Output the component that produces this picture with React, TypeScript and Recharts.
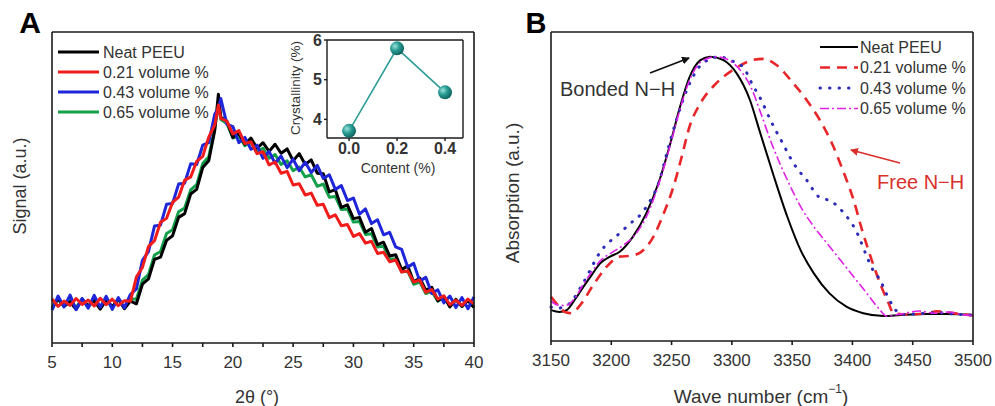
import { LineChart, Line, XAxis, YAxis } from 'recharts'

// ── Panel A: XRD (2θ scan, arbitrary signal units) ───────────────────────────
const twoTheta = [
  5, 5.5, 6, 6.5, 7, 7.5, 8, 8.5, 9, 9.5,
  10, 10.5, 11, 11.5, 12, 12.5, 13, 13.5, 14, 14.5,
  15, 15.5, 16, 16.5, 17, 17.5, 18, 18.5, 18.8, 19, 19.5,
  20, 20.5, 21, 21.5, 22, 22.5, 23, 23.5, 24, 24.5,
  25, 25.5, 26, 26.5, 27, 27.5, 28, 28.5, 29, 29.5,
  30, 30.5, 31, 31.5, 32, 32.5, 33, 33.5, 34, 34.5,
  35, 35.5, 36, 36.5, 37, 37.5, 38, 38.5, 39, 39.5, 40,
]
const xrdNeat = [
  11.0, 14.3, 11.8, 13.2, 10.8, 14.1, 12.0, 13.6, 10.9, 13.8,
  11.6, 14.2, 11.0, 13.5, 12.6, 18.9, 20.6, 26.9, 27.6, 33.0,
  34.5, 40.4, 41.6, 47.9, 49.4, 56.4, 58.6, 68.4, 80.0, 72.6, 71.4,
  66.1, 67.4, 63.9, 65.9, 62.6, 64.4, 61.6, 63.9, 61.0, 62.4,
  58.6, 60.9, 57.4, 58.9, 54.6, 54.4, 48.6, 49.3, 43.6, 44.4,
  40.0, 40.4, 35.6, 36.8, 31.6, 32.4, 28.0, 28.4, 23.6, 24.8,
  19.6, 20.9, 17.0, 17.9, 13.6, 15.0, 11.6, 14.0, 11.8, 13.6, 11.4,
]
const xrd021 = [
  14.2, 11.8, 13.5, 12.1, 14.3, 12.4, 13.8, 11.9, 14.4, 12.3,
  14.1, 12.0, 13.6, 13.4, 21.2, 24.3, 31.0, 32.9, 38.8, 40.1,
  45.2, 46.9, 52.3, 53.4, 58.4, 60.0, 66.2, 70.1, 76.5, 72.2, 71.3,
  67.2, 68.3, 64.1, 64.7, 60.9, 61.5, 57.3, 58.2, 54.6, 55.2,
  50.8, 51.2, 47.6, 48.2, 44.3, 44.6, 40.3, 41.2, 37.7, 38.1,
  34.3, 35.2, 32.1, 32.7, 28.8, 29.2, 26.1, 26.7, 22.8, 23.2,
  19.6, 20.2, 16.3, 17.2, 14.1, 15.2, 12.3, 13.8, 12.1, 14.1, 12.6,
]
const xrd043 = [
  10.6, 15.1, 11.6, 15.4, 10.7, 14.3, 11.2, 15.3, 11.5, 15.0,
  10.8, 14.6, 11.3, 15.6, 17.4, 26.6, 29.4, 37.6, 37.9, 44.6,
  44.9, 51.1, 51.4, 57.6, 57.4, 63.6, 64.4, 73.6, 75.4, 78.6, 70.4,
  69.6, 64.4, 66.1, 62.3, 63.6, 59.4, 61.6, 57.8, 60.1, 56.4,
  59.1, 55.4, 58.1, 54.8, 57.1, 52.9, 54.1, 49.4, 50.6, 45.8,
  46.6, 41.4, 43.1, 38.4, 39.6, 34.8, 35.6, 30.9, 30.1, 24.4,
  25.6, 19.9, 21.1, 15.9, 17.1, 12.9, 15.1, 11.4, 14.6, 11.0, 14.8,
]
const xrd065 = [
  11.5, 14.0, 11.8, 13.7, 11.4, 14.2, 11.6, 13.9, 11.3, 14.1,
  11.6, 14.0, 11.5, 14.2, 14.1, 20.2, 22.0, 28.3, 29.4, 35.2,
  36.4, 42.2, 43.4, 49.2, 50.9, 57.7, 59.9, 69.1, 77.0, 71.9, 70.6,
  65.9, 66.6, 63.4, 64.6, 61.4, 62.6, 59.4, 60.6, 57.4, 58.6,
  55.4, 56.6, 53.4, 54.1, 50.4, 51.1, 46.9, 47.1, 42.9, 43.1,
  38.9, 39.1, 34.9, 35.1, 30.9, 31.1, 26.9, 27.1, 22.9, 23.1,
  18.9, 19.6, 15.9, 16.6, 13.4, 14.6, 11.9, 14.0, 11.7, 13.9, 11.6,
]
const seriesNames = ['Neat PEEU', '0.21 volume %', '0.43 volume %', '0.65 volume %']
const xrdColors = ['#000000', '#f01c1c', '#1f25d8', '#12a04a']
const xrdTicks = [5, 7.5, 10, 12.5, 15, 17.5, 20, 22.5, 25, 27.5, 30, 32.5, 35, 37.5, 40]

// inset: crystallinity vs content
const contentPct = [0, 0.2, 0.4]
const crystallinity = [3.71, 5.79, 4.68]
const insetXTicks = [0, 0.1, 0.2, 0.3, 0.4]
const insetYTicks = [4, 4.5, 5, 5.5, 6]

// ── Panel B: FTIR N–H region ─────────────────────────────────────────────────
const neatWn = [3150, 3157, 3163, 3170, 3177, 3184, 3191, 3199, 3207, 3218, 3229, 3240, 3249, 3257, 3265, 3274, 3282, 3293, 3304, 3315, 3323, 3334, 3346, 3357, 3368, 3381, 3395, 3409, 3426, 3440, 3462, 3478, 3500]
const neatAbs = [10, 9.4, 10, 13.5, 17.6, 21.5, 25.2, 27.3, 28.9, 33.8, 41.3, 52.1, 64, 75.8, 85.5, 90.9, 92, 90.9, 86.6, 78, 68, 54.3, 40.2, 29.4, 21.9, 15.4, 11.1, 9, 8.1, 8.4, 8.7, 8.7, 8.4]
const wn021 = [3150, 3156, 3162, 3167, 3174, 3185, 3196, 3207, 3216, 3224, 3235, 3243, 3252, 3258, 3265, 3274, 3286, 3300, 3310, 3318, 3326, 3337, 3351, 3362, 3373, 3383, 3392, 3401, 3408, 3416, 3424, 3430, 3434, 3445, 3460, 3470, 3480, 3490, 3500]
const abs021 = [14.3, 11.5, 9.3, 9.0, 11.5, 18.1, 24, 27.3, 27.6, 28.6, 33.8, 40.8, 50.5, 59, 69.5, 77, 83, 87.5, 89.8, 91, 91.3, 89.3, 83.4, 78, 71.5, 64, 55.3, 45.6, 35.9, 26.2, 17.6, 12.2, 9, 8.6, 8.9, 9.6, 9.2, 8.7, 8.3]
const wn043 = [3150, 3155, 3165, 3177, 3191, 3207, 3216, 3224, 3231, 3240, 3246, 3254, 3265, 3276, 3290, 3298, 3309, 3318, 3323, 3332, 3337, 3343, 3348, 3354, 3362, 3372, 3383, 3392, 3404, 3412, 3417, 3423, 3428, 3434, 3440, 3455, 3470, 3485, 3500]
const abs043 = [11, 10.6, 12, 19, 28.9, 34.9, 38.1, 40.8, 44.6, 52, 60.7, 71.5, 83.4, 89.9, 92, 90.9, 88.8, 82.3, 79, 71.5, 67.7, 63.4, 59.6, 55.9, 52.1, 46.7, 45.1, 41.8, 34.9, 27.3, 23, 19.7, 15.4, 11.1, 8.6, 8.8, 9.2, 8.7, 8.4]
const wn065 = [3150, 3155, 3162, 3170, 3177, 3185, 3191, 3200, 3210, 3220, 3230, 3240, 3249, 3257, 3265, 3275, 3287, 3297, 3309, 3316, 3323, 3334, 3346, 3357, 3368, 3379, 3390, 3401, 3412, 3423, 3428, 3440, 3455, 3468, 3480, 3490, 3500]
const abs065 = [13, 11.7, 11.5, 14, 18.5, 23, 26, 28.5, 31, 34.5, 41, 51.5, 63.5, 75, 84.5, 90.5, 92, 91, 86.6, 82, 74.8, 62.9, 52.1, 43.5, 37, 31.6, 26.2, 20.8, 15.4, 10, 8.1, 8.7, 9.7, 9.0, 9.4, 8.6, 8.2]
const ftirColors = ['#000000', '#e8262a', '#2c2cb8', '#e020e6']
const ftirDashes = ['', '10 7', '0.5 9', '9 3 2 3']
const ftirWidths = [2, 2.6, 3, 1.6]
const ftirTicks = [3150, 3175, 3200, 3225, 3250, 3275, 3300, 3325, 3350, 3375, 3400, 3425, 3450, 3475, 3500]

const FONT = '"Liberation Sans", Arial, sans-serif'
const INK = '#333'
const EDGE = '#1a1a1a'

const xrdData = twoTheta.map((t, i) => ({
  t, neat: xrdNeat[i], v021: xrd021[i], v043: xrd043[i], v065: xrd065[i],
}))
const insetData = contentPct.map((c, i) => ({ c, cr: crystallinity[i] }))
const zip = (xs: number[], ys: number[]) => xs.map((x, i) => ({ x, y: ys[i] }))
const ftirSeries = [
  zip(neatWn, neatAbs), zip(wn021, abs021), zip(wn043, abs043), zip(wn065, abs065),
]

// label only on the major ticks; minor ticks keep just their tick line
function AxisTick({ x, y, payload, every, size = 17, bold = false, digits = 0, shift = 0 }: any) {
  const v = payload.value as number
  const r = v / every
  if (Math.abs(r - Math.round(r)) > 1e-6) return null
  return (
    <text x={x} y={y + shift} dy="0.71em" textAnchor="middle" fontSize={size}
      fontWeight={bold ? 700 : 400} fill={INK} fontFamily={FONT}>
      {v.toFixed(digits)}
    </text>
  )
}

function YTick({ x, y, payload }: any) {
  const v = payload.value as number
  if (!Number.isInteger(v)) return null
  return (
    <text x={x} y={y} dy="0.36em" textAnchor="end" fontSize={16}
      fontWeight={700} fill={INK} fontFamily={FONT}>{v}</text>
  )
}

// plain box edges (top x-axis and right y-axis carry no ticks)
function frameAxes(domainX: [number, number], domainY: [number, number], key: string) {
  return [
    <XAxis key="top" xAxisId="top" orientation="top" dataKey={key} type="number" domain={domainX}
      height={1} tick={false} tickLine={false} stroke={EDGE} strokeWidth={1.6} />,
    <YAxis key="left" domain={domainY} width={1} tick={false} tickLine={false}
      stroke={EDGE} strokeWidth={1.6} />,
    <YAxis key="right" yAxisId="right" orientation="right" domain={domainY} width={1}
      tick={false} tickLine={false} stroke={EDGE} strokeWidth={1.6} />,
  ]
}

function XrdPanel() {
  const keys = ['neat', 'v021', 'v043', 'v065']
  const order = [3, 0, 2, 1] // green under, red on top
  return (
    <div style={{ position: 'absolute', left: 0, top: 0 }}>
      <LineChart width={500} height={406} data={xrdData}
        margin={{ top: 31, right: 25, bottom: 33, left: 51 }}>
        <XAxis dataKey="t" type="number" domain={[5, 40]} ticks={xrdTicks}
          height={30} tickSize={4} stroke={EDGE} strokeWidth={1.6}
          tick={<AxisTick every={5} shift={7} />} />
        {frameAxes([5, 40], [0, 100], 't')}
        {order.map((k) => (
          <Line key={keys[k]} dataKey={keys[k]} name={seriesNames[k]} type="linear"
            stroke={xrdColors[k]} strokeWidth={3} strokeLinejoin="round" dot={false}
            isAnimationActive={false} />
        ))}
      </LineChart>
    </div>
  )
}

function InsetPanel() {
  return (
    <div style={{ position: 'absolute', left: 270, top: 20 }}>
      <LineChart width={200} height={150} data={insetData}
        margin={{ top: 19, right: 6, bottom: 12, left: 27 }}>
        <defs>
          <radialGradient id="tealBall" cx="35%" cy="35%" r="70%">
            <stop offset="0%" stopColor="#9be3dc" />
            <stop offset="45%" stopColor="#2a9d95" />
            <stop offset="100%" stopColor="#0b5e59" />
          </radialGradient>
        </defs>
        <XAxis dataKey="c" type="number" domain={[-0.092, 0.475]} ticks={insetXTicks}
          height={20} tickSize={3} stroke={EDGE} strokeWidth={1.4}
          tick={<AxisTick every={0.2} size={16} bold digits={1} />} />
        <XAxis xAxisId="top" orientation="top" dataKey="c" type="number" domain={[-0.092, 0.475]}
          height={1} tick={false} tickLine={false} stroke={EDGE} strokeWidth={1.4} />
        <YAxis domain={[3.53, 6]} ticks={insetYTicks} width={30} tickSize={3}
          stroke={EDGE} strokeWidth={1.4} tick={<YTick />} />
        <YAxis yAxisId="right" orientation="right" domain={[3.53, 6]} width={1}
          tick={false} tickLine={false} stroke={EDGE} strokeWidth={1.4} />
        <Line dataKey="cr" type="linear" stroke="#2f9e98" strokeWidth={1.6}
          dot={{ r: 7, fill: 'url(#tealBall)', stroke: 'none' }} isAnimationActive={false} />
      </LineChart>
    </div>
  )
}

function FtirPanel() {
  return (
    <div style={{ position: 'absolute', left: 490, top: 0 }}>
      <LineChart width={505} height={406}
        margin={{ top: 31, right: 21, bottom: 35, left: 60 }}>
        <XAxis dataKey="x" type="number" domain={[3150, 3500]} ticks={ftirTicks}
          allowDuplicatedCategory={false} height={30} tickSize={4}
          stroke={EDGE} strokeWidth={1.6} tick={<AxisTick every={50} shift={7} />} />
        {frameAxes([3150, 3500], [0, 100], 'x')}
        {ftirSeries.map((d, i) => (
          <Line key={seriesNames[i]} data={d} dataKey="y" name={seriesNames[i]} type="monotone"
            stroke={ftirColors[i]} strokeWidth={ftirWidths[i]} strokeDasharray={ftirDashes[i]}
            strokeLinecap={i === 2 ? 'round' : 'butt'} dot={false} isAnimationActive={false} />
        ))}
      </LineChart>
    </div>
  )
}

function Overlay() {
  const txt = { fontFamily: FONT, fill: INK }
  return (
    <svg width={995} height={406} style={{ position: 'absolute', left: 0, top: 0, pointerEvents: 'none' }}>
      <defs>
        <marker id="headBlack" markerWidth="8" markerHeight="8" refX="7" refY="4" orient="auto" markerUnits="userSpaceOnUse">
          <path d="M0,0 L8,4 L0,8 z" fill="#111" />
        </marker>
        <marker id="headRed" markerWidth="8" markerHeight="8" refX="7" refY="4" orient="auto" markerUnits="userSpaceOnUse">
          <path d="M0,0 L8,4 L0,8 z" fill="#d9302c" />
        </marker>
      </defs>

      <text x={30} y={22} textAnchor="middle" dominantBaseline="central" fontSize={30} fontWeight={700} fontFamily={FONT} fill="#000">A</text>
      <text x={536} y={23} textAnchor="middle" dominantBaseline="central" fontSize={29} fontWeight={700} fontFamily={FONT} fill="#000">B</text>

      {/* panel A titles */}
      <text {...txt} fontSize={18} textAnchor="middle" dominantBaseline="central"
        transform="translate(20,186) rotate(-90)">Signal (a.u.)</text>
      <text {...txt} fontSize={18} textAnchor="middle" dominantBaseline="central" x={257} y={397}>2θ (°)</text>
      <text {...txt} fontSize={13.5} textAnchor="middle" dominantBaseline="central"
        transform="translate(295,88) rotate(-90)">Crystallinity (%)</text>
      <text {...txt} fontSize={14} textAnchor="middle" dominantBaseline="central" x={398} y={168}>Content (%)</text>

      {/* panel A legend */}
      {seriesNames.map((n, i) => (
        <g key={n}>
          <line x1={58} x2={99} y1={52 + i * 20} y2={52 + i * 20} stroke={xrdColors[i]} strokeWidth={3} />
          <text {...txt} fontSize={16} x={103} y={52 + i * 20} dominantBaseline="central">{n}</text>
        </g>
      ))}

      {/* panel B titles */}
      <text {...txt} fontSize={19} textAnchor="middle" dominantBaseline="central"
        transform="translate(512,193) rotate(-90)">Absorption (a.u.)</text>
      <text {...txt} fontSize={19} textAnchor="middle" dominantBaseline="central" x={761} y={396}>
        Wave number (cm<tspan fontSize={12} dy={-7}>−1</tspan><tspan dy={7}>)</tspan>
      </text>

      {/* panel B legend */}
      {seriesNames.map((n, i) => (
        <g key={n}>
          <line x1={820} x2={858} y1={47 + i * 20.5} y2={47 + i * 20.5} stroke={ftirColors[i]}
            strokeWidth={ftirWidths[i]} strokeDasharray={ftirDashes[i]}
            strokeLinecap={i === 2 ? 'round' : 'butt'} />
          <text {...txt} fontSize={16} x={860} y={47 + i * 20.5} dominantBaseline="central">{n}</text>
        </g>
      ))}

      {/* annotations */}
      <text {...txt} fontSize={20} x={560} y={89} dominantBaseline="central">Bonded N−H</text>
      <line x1={650} y1={73} x2={689} y2={58} stroke="#111" strokeWidth={1.8} markerEnd="url(#headBlack)" />
      <text fontFamily={FONT} fill="#d9302c" fontSize={20} x={877} y={182} dominantBaseline="central">Free N−H</text>
      <line x1={900} y1={163} x2={851} y2={150} stroke="#d9302c" strokeWidth={1.8} markerEnd="url(#headRed)" />
    </svg>
  )
}

export default function App() {
  return (
    <div style={{ position: 'absolute', left: 0, top: 0, width: 995, height: 406, background: '#fff' }}>
      <XrdPanel />
      <InsetPanel />
      <FtirPanel />
      <Overlay />
    </div>
  )
}
